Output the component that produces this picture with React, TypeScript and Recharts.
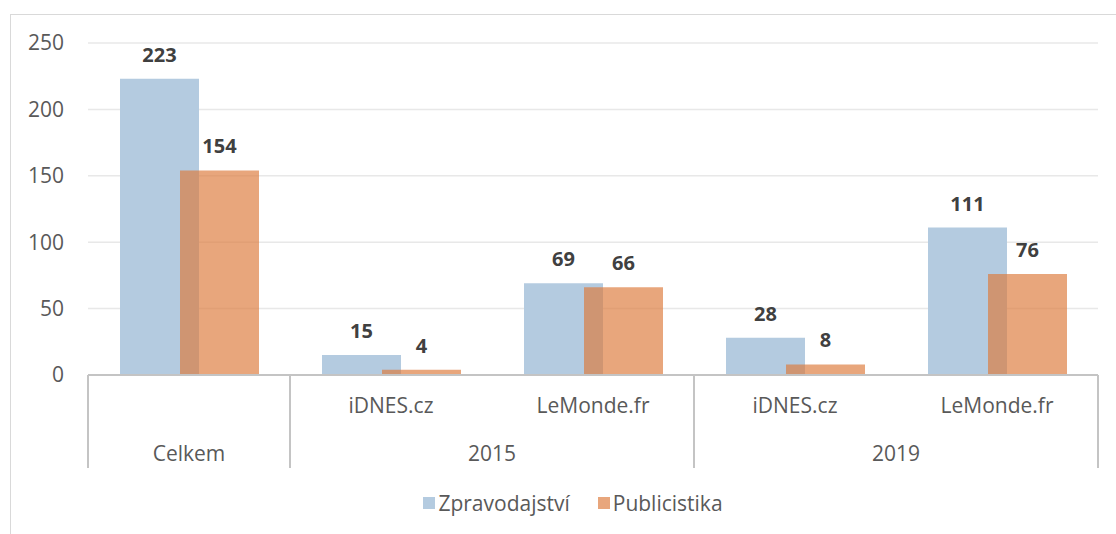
import { Bar, BarChart, CartesianGrid, LabelList, Legend, XAxis, YAxis } from "recharts";

const categories = ["", "iDNES.cz", "LeMonde.fr", "iDNES.cz", "LeMonde.fr"];
const groupLabels = ["Celkem", "2015", "2019"];
const groupSpans = [1, 2, 2];
const zpravodajstvi = [223, 15, 69, 28, 111];
const publicistika = [154, 4, 66, 8, 76];
const yTicks = [0, 50, 100, 150, 200, 250];

const BLUE = "#b4cbe0";
const ORANGE = "#dd7a3c";
const TEXT = "#595959";
const AXIS = "#c4c4c4";

const W = 1116;
const H = 534;
const MARGIN = { top: 43, right: 18, left: 28, bottom: 17 };
const Y_W = 60;
const BAND = (W - MARGIN.left - MARGIN.right - Y_W) / categories.length;

const data = categories.map((name, i) => ({
  id: `c${i}`,
  name,
  zprav: zpravodajstvi[i],
  publ: publicistika[i],
}));

// first index of each group
const groupStart: number[] = [];
groupSpans.reduce((acc, s) => {
  groupStart.push(acc);
  return acc + s;
}, 0);

function CategoryTick(props: any) {
  const { x, y, payload } = props;
  const i = payload.index;
  const g = groupStart.indexOf(i);
  const isLast = groupStart.some((s, k) => s + groupSpans[k] - 1 === i);
  const lineTop = y;
  const lineBottom = y + 93;
  return (
    <g>
      {categories[i] && (
        <text x={x} y={y + 38} textAnchor="middle" fill={TEXT} fontSize={21}>
          {categories[i]}
        </text>
      )}
      {g >= 0 && (
        <text
          x={x - BAND / 2 + (groupSpans[g] * BAND) / 2}
          y={y + 86}
          textAnchor="middle"
          fill={TEXT}
          fontSize={21}
        >
          {groupLabels[g]}
        </text>
      )}
      {i === 0 && (
        <line x1={x - BAND / 2} x2={x - BAND / 2} y1={lineTop} y2={lineBottom} stroke={AXIS} strokeWidth={2} />
      )}
      {isLast && (
        <line x1={x + BAND / 2} x2={x + BAND / 2} y1={lineTop} y2={lineBottom} stroke={AXIS} strokeWidth={2} />
      )}
    </g>
  );
}

function LegendContent() {
  const items = [
    { label: "Zpravodajství", color: BLUE, opacity: 1 },
    { label: "Publicistika", color: ORANGE, opacity: 0.67 },
  ];
  return (
    <div
      style={{
        display: "flex",
        justifyContent: "center",
        paddingLeft: 20,
        height: 28,
        lineHeight: "28px",
        fontSize: 21,
        color: TEXT,
      }}
    >
      {items.map((it, k) => (
        <div key={it.label} style={{ display: "flex", alignItems: "center", marginLeft: k ? 28 : 0 }}>
          <span
            style={{
              width: 12,
              height: 12,
              background: it.color,
              opacity: it.opacity,
              marginRight: 3,
              display: "inline-block",
            }}
          />
          <span>{it.label}</span>
        </div>
      ))}
    </div>
  );
}

export default function App() {
  return (
    <div
      style={{
        position: "absolute",
        left: 0,
        top: 0,
        width: W,
        height: H,
        background: "#fff",
        fontFamily: "'Open Sans', sans-serif",
      }}
    >
      <div
        style={{
          position: "absolute",
          left: 10,
          top: 14,
          right: 0,
          bottom: 0,
          borderTop: "1.5px solid #d9d9d9",
          borderLeft: "1.5px solid #d9d9d9",
        }}
      />
      <BarChart width={W} height={H} data={data} margin={MARGIN} barSize={79} barGap={-19}>
        <CartesianGrid vertical={false} stroke="#e8e8e8" strokeWidth={1.5} />
        <XAxis
          dataKey="id"
          interval={0}
          tickLine={false}
          tickSize={0}
          tickMargin={0}
          height={114}
          axisLine={{ stroke: AXIS, strokeWidth: 2 }}
          tick={<CategoryTick />}
        />
        <YAxis
          width={Y_W}
          domain={[0, 250]}
          ticks={yTicks}
          axisLine={false}
          tickLine={false}
          tickMargin={18}
          tick={{ fill: TEXT, fontSize: 21 }}
        />
        <Legend verticalAlign="bottom" content={<LegendContent />} />
        <Bar dataKey="zprav" name="Zpravodajství" fill={BLUE} isAnimationActive={false}>
          <LabelList dataKey="zprav" position="top" offset={17} fill="#404040" fontSize={20} fontWeight="bold" />
        </Bar>
        <Bar dataKey="publ" name="Publicistika" fill={ORANGE} fillOpacity={0.67} isAnimationActive={false}>
          <LabelList dataKey="publ" position="top" offset={17} fill="#404040" fontSize={20} fontWeight="bold" />
        </Bar>
      </BarChart>
    </div>
  );
}
